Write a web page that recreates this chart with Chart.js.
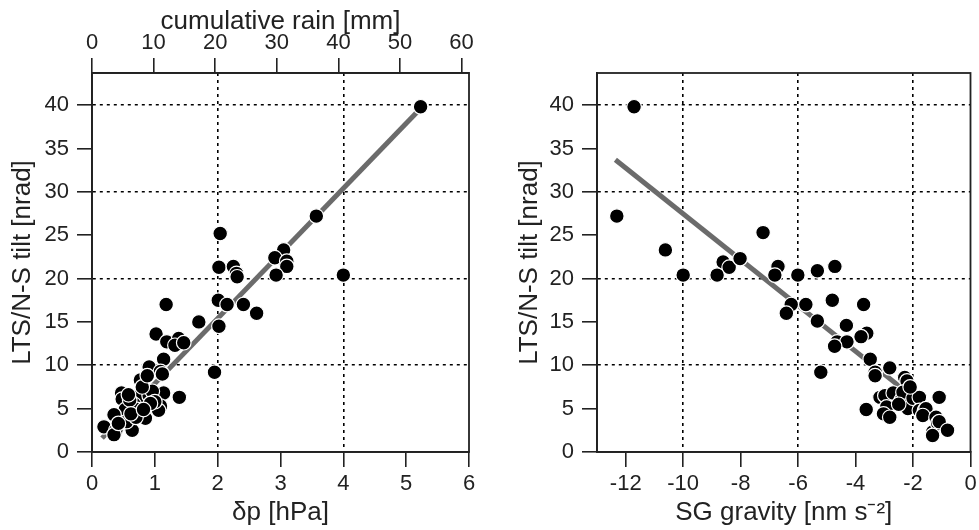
<!DOCTYPE html>
<html>
<head>
<meta charset="utf-8">
<script src="https://cdn.jsdelivr.net/npm/chart.js@4/dist/chart.umd.min.js"></script>
<style>
  html, body { margin: 0; padding: 0; background: #fff; }
  #wrap { position: relative; width: 979px; height: 530px; }
  #c1 { position: absolute; left: 0; top: 0; }
  #c2 { position: absolute; left: 490px; top: 0; }
</style>
</head>
<body>
<div id="wrap">
  <canvas id="c1" width="490" height="530"></canvas>
  <canvas id="c2" width="489" height="530"></canvas>
</div>
<script>
// ---------- data ----------
// Left panel: pressure change δp [hPa] vs LTS/N-S tilt [nrad]
const DP = [5.23, 3.57, 2.04, 3.05, 2.91, 3.10, 3.10, 2.93, 2.02, 2.25, 2.30, 2.31, 4.00,
  1.18, 2.01, 2.15, 2.41, 2.62, 1.70, 2.02, 1.02, 1.19, 1.38, 1.32, 1.46, 1.14, 1.95,
  0.91, 1.09, 0.77, 1.14, 1.39, 0.75, 0.91, 0.96, 0.47, 0.48, 0.67, 0.72, 0.53, 0.35,
  1.09, 1.06, 0.85, 0.19, 0.38, 0.64, 0.35, 0.80, 0.60, 0.88, 1.00, 0.55, 0.70,
  0.93, 0.62, 0.82, 1.12, 0.42, 0.58];
const TILT_L = [39.8, 27.2, 25.2, 23.3, 22.4, 22.0, 21.4, 20.4, 21.3, 21.4, 20.6, 20.2, 20.4,
  17.0, 17.5, 17.0, 17.0, 16.0, 15.0, 14.5, 13.6, 12.7, 13.1, 12.3, 12.6, 10.7, 9.2,
  9.8, 9.3, 8.3, 6.8, 6.3, 6.4, 6.5, 7.0, 6.8, 6.1, 5.5, 4.9, 4.9, 4.3,
  5.3, 4.8, 3.9, 2.9, 2.5, 2.5, 2.0, 7.5, 6.0, 8.8, 5.8, 3.5, 4.0,
  5.6, 4.4, 4.9, 9.0, 3.3, 6.6];
// Right panel: SG gravity [nm s-2] vs LTS/N-S tilt [nrad]
const SG = [-11.71, -12.31, -10.62, -10.00, -8.61, -8.40, -8.02, -8.82, -7.22, -6.70, -6.81,
  -6.01, -5.33, -4.72, -6.24, -6.41, -5.73, -4.81, -3.72, -5.33, -4.32, -3.61, -3.81,
  -4.64, -4.30, -4.73, -5.21, -3.63, -3.49, -3.32, -3.32, -2.81, -2.29, -2.21, -3.15,
  -2.98, -2.69, -2.92, -3.03, -2.81, -2.41, -2.35, -2.18, -2.00, -1.78, -1.78, -1.60,
  -1.55, -1.66, -1.09, -1.20, -1.32, -1.14, -1.09, -0.80, -1.32, -2.50, -2.10];
const TILT_R = [39.8, 27.2, 23.3, 20.4, 21.9, 21.3, 22.3, 20.4, 25.3, 21.4, 20.4,
  20.4, 20.9, 21.4, 17.0, 16.0, 17.0, 17.5, 17.0, 15.1, 14.6, 13.7, 13.3,
  12.7, 12.7, 12.2, 9.2, 4.9, 10.7, 9.2, 8.8, 9.7, 8.6, 8.2, 6.3,
  6.5, 6.8, 5.2, 4.4, 4.0, 6.0, 6.9, 5.0, 6.2, 6.3, 4.8, 4.8,
  5.0, 4.2, 6.3, 4.0, 2.3, 3.3, 3.5, 2.5, 1.9, 5.5, 7.5];
// Regression lines (end points, data units)
const FIT_L_X = [0.16, 5.24];
const FIT_L_Y = [1.6, 39.7];
const FIT_R_X = [-12.36, -1.5];
const FIT_R_Y = [33.7, 5.0];
// Tick labels
const Y_TICKS = [0, 5, 10, 15, 20, 25, 30, 35, 40];
const DP_TICKS = [0, 1, 2, 3, 4, 5, 6];
const RAIN_TICKS = [0, 10, 20, 30, 40, 50, 60];
const SG_TICKS = [-12, -10, -8, -6, -4, -2, 0];
// Dotted grid positions
const GRID_Y = [10, 20, 30, 40];
const GRID_DP = [2, 4];
const GRID_SG = [-10, -6, -2];

// ---------- style ----------
const FONT = "'Liberation Sans', Arial, Helvetica, sans-serif";
const AXIS = '#222';
const TICK_FONT = { family: FONT, size: 22 };
const TITLE_FONT = { family: FONT, size: 26 };
Chart.defaults.font.family = FONT;
Chart.defaults.color = AXIS;

const pts = (xs, ys) => xs.map((x, i) => ({ x: x, y: ys[i] }));
const setTicks = (arr) => (s) => { s.ticks = arr.map(v => ({ value: v })); };
const fixSize = (prop, v) => (s) => {
  s[prop] = v;
  s.paddingLeft = 0; s.paddingRight = 0; s.paddingTop = 0; s.paddingBottom = 0;
};
const gridFor = (vals, draw) => ({
  drawOnChartArea: draw,
  color: (c) => (c.tick && vals.includes(c.tick.value)) ? '#000' : 'rgba(0,0,0,0)',
  lineWidth: 1.6,
  tickColor: AXIS,
  tickWidth: 1.6,
  tickLength: 15,
  tickBorderDash: []
});
const borderOpts = { color: AXIS, width: 1.8, dash: [3, 4] };

const frame = {
  id: 'frame',
  beforeDatasetsDraw(chart) {
    const { ctx, chartArea: a } = chart;
    ctx.save();
    ctx.setLineDash([]);
    ctx.strokeStyle = AXIS;
    ctx.lineWidth = 1.8;
    ctx.strokeRect(a.left, a.top, a.right - a.left, a.bottom - a.top);
    ctx.restore();
  }
};

const scatterSet = (xs, ys) => ({
  type: 'scatter',
  data: pts(xs, ys),
  backgroundColor: '#000',
  borderColor: '#fff',
  borderWidth: 1.2,
  pointRadius: 7.3,
  pointHoverRadius: 7.3,
  order: 0
});
const fitSet = (xs, ys) => ({
  type: 'scatter',
  data: pts(xs, ys),
  showLine: true,
  borderColor: '#6b6b6b',
  borderWidth: 5,
  pointRadius: 0,
  order: 1
});

const yScale = (width) => ({
  type: 'linear', position: 'left', min: 0, max: 43.7,
  afterBuildTicks: setTicks(Y_TICKS),
  afterFit: fixSize('width', width),
  grid: gridFor(GRID_Y, true),
  border: borderOpts,
  ticks: { font: TICK_FONT, color: AXIS, padding: 8 },
  title: { display: true, text: 'LTS/N-S tilt [nrad]', font: TITLE_FONT, color: AXIS, padding: { top: 7, bottom: 0 } }
});

const common = {
  responsive: false,
  animation: false,
  events: [],
  plugins: { legend: { display: false }, tooltip: { enabled: false } }
};

// ---------- left chart ----------
new Chart(document.getElementById('c1'), {
  type: 'scatter',
  data: { datasets: [scatterSet(DP, TILT_L), fitSet(FIT_L_X, FIT_L_Y)] },
  options: Object.assign({}, common, {
    layout: { padding: { left: 0, right: 21, top: 0, bottom: 0 } },
    scales: {
      x: {
        type: 'linear', position: 'bottom', min: 0, max: 6,
        afterBuildTicks: setTicks(DP_TICKS),
        afterFit: fixSize('height', 78),
        grid: gridFor(GRID_DP, true),
        border: borderOpts,
        ticks: { font: TICK_FONT, color: AXIS, padding: 4, maxRotation: 0 },
        title: { display: true, text: 'δp [hPa]', font: TITLE_FONT, color: AXIS, padding: { top: 0, bottom: 2 } }
      },
      xTop: {
        type: 'linear', position: 'top', axis: 'x', min: 0, max: 61.2,
        afterBuildTicks: setTicks(RAIN_TICKS),
        afterFit: fixSize('height', 73),
        grid: gridFor([], false),
        border: borderOpts,
        ticks: { font: TICK_FONT, color: AXIS, padding: 2, maxRotation: 0 },
        title: { display: true, text: 'cumulative rain [mm]', font: TITLE_FONT, color: AXIS, padding: { top: 6, bottom: 0 } }
      },
      y: yScale(92)
    }
  }),
  plugins: [frame]
});

// ---------- right chart ----------
new Chart(document.getElementById('c2'), {
  type: 'scatter',
  data: { datasets: [scatterSet(SG, TILT_R), fitSet(FIT_R_X, FIT_R_Y)] },
  options: Object.assign({}, common, {
    layout: { padding: { left: 17, right: 4, top: 73, bottom: 0 } },
    scales: {
      x: {
        type: 'linear', position: 'bottom', min: -13, max: 0,
        afterBuildTicks: setTicks(SG_TICKS),
        afterFit: fixSize('height', 78),
        grid: gridFor(GRID_SG, true),
        border: borderOpts,
        ticks: { font: TICK_FONT, color: AXIS, padding: 4, maxRotation: 0 },
        title: { display: true, text: 'SG gravity [nm s⁻²]', font: TITLE_FONT, color: AXIS, padding: { top: 0, bottom: 2 } }
      },
      y: yScale(90)
    }
  }),
  plugins: [frame]
});
</script>
</body>
</html>
